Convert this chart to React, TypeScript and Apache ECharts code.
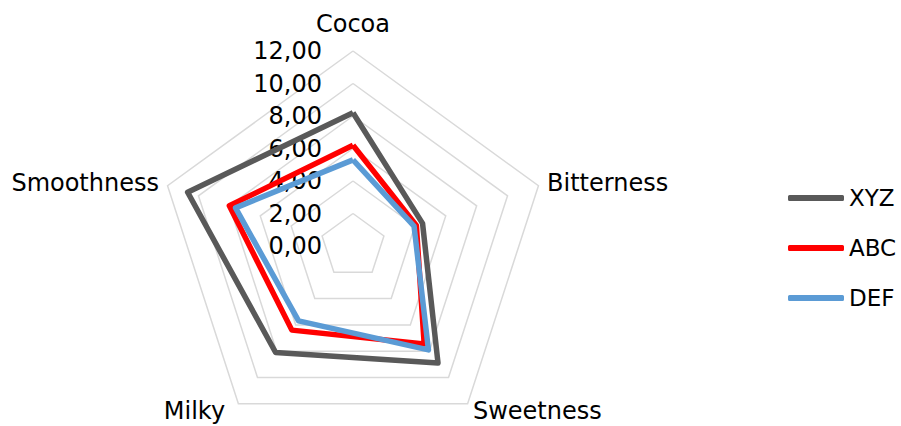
import React, { useEffect, useRef } from "react";
import * as echarts from "echarts";

// Indicators in ECharts drawing order (counter-clockwise from the top)
const categories = ["Cocoa", "Smoothness", "Milky", "Sweetness", "Bitterness"];
const seriesNames = ["XYZ", "ABC", "DEF"];
const xyzValues = [8.2, 10.7, 8.1, 8.9, 4.5];
const abcValues = [6.2, 8.0, 6.4, 7.45, 4.1];
const defValues = [5.3, 7.6, 5.7, 7.9, 3.95];
const tickLabels = [0, 2, 4, 6, 8, 10, 12];
const colors = ["#595959", "#FF0000", "#5B9BD5"];

const FONT = "DejaVu Sans";

export default function App() {
  const ref = useRef<HTMLDivElement>(null);
  useEffect(() => {
    if (!ref.current) return;
    const chart = echarts.init(ref.current, undefined, { renderer: "svg" });
    const allValues = [xyzValues, abcValues, defValues];
    const maxV = tickLabels[tickLabels.length - 1];
    chart.setOption({
      animation: false,
      backgroundColor: "#ffffff",
      textStyle: { fontFamily: FONT },
      legend: {
        orient: "vertical",
        left: 788,
        top: 185,
        padding: 0,
        itemWidth: 56,
        itemHeight: 6,
        itemGap: 24,
        icon: "roundRect",
        data: seriesNames,
        textStyle: { fontSize: 23, color: "#000", fontFamily: FONT, lineHeight: 26 },
      },
      radar: {
        center: [353, 246],
        radius: 195,
        shape: "polygon",
        splitNumber: tickLabels.length - 1,
        nameGap: 9,
        indicator: categories.map((c) => ({ name: c, min: 0, max: maxV })),
        axisName: {
          color: "#000",
          fontSize: 24,
          fontFamily: FONT,
          formatter: (name: string) => {
            if (name === "Cocoa") return "{top|" + name + "}";
            if (name === "Milky") return "{ml|" + name + "}";
            return name;
          },
          rich: {
            top: { fontSize: 24, fontFamily: FONT, color: "#000", padding: [0, 0, 6, 0] },
            ml: { fontSize: 24, fontFamily: FONT, color: "#000", padding: [0, 8, 0, 0] },
          },
        },
        axisLine: { show: false },
        axisTick: { show: false },
        axisLabel: { show: false },
        splitArea: { show: false },
        splitLine: { lineStyle: { color: "#D9D9D9", width: 1.5 } },
      },
      grid: { left: 353, top: 51, height: 195, width: 1 },
      xAxis: { type: "value", show: false },
      yAxis: {
        type: "value",
        min: 0,
        max: maxV,
        interval: 2,
        axisLine: { show: false },
        axisTick: { show: false },
        splitLine: { show: false },
        axisLabel: {
          margin: 31,
          fontSize: 24,
          color: "#000",
          fontFamily: FONT,
          formatter: (v: number) => v.toFixed(2).replace(".", ","),
        },
      },
      series: [
        {
          type: "radar",
          symbol: "none",
          data: seriesNames.map((n, i) => ({
            name: n,
            value: allValues[i],
            lineStyle: { color: colors[i], width: 5.5 },
            itemStyle: { color: colors[i] },
          })),
        },
      ],
    });
    return () => chart.dispose();
  }, []);
  return (
    <div
      ref={ref}
      style={{ position: "fixed", left: 0, top: 0, width: 901, height: 426, background: "#fff" }}
    />
  );
}
